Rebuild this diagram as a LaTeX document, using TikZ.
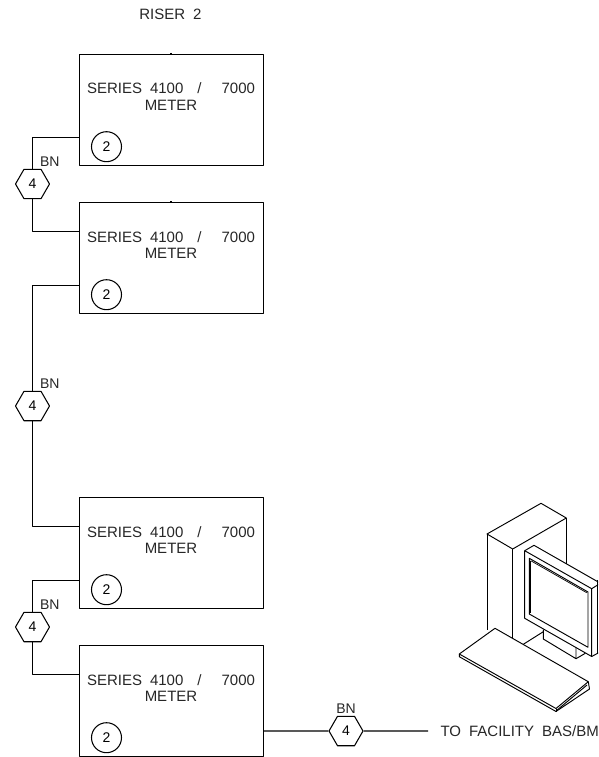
\documentclass[tikz,border=0pt]{standalone}
\usepackage{fontspec}
\setmainfont{Liberation Sans}
\usetikzlibrary{shapes.geometric}
\tikzset{
  meter/.style={draw,minimum width=184.5pt,minimum height=111pt,inner sep=0pt},
  tag/.style={draw,circle,minimum size=30pt,inner sep=0pt,font=\fontsize{14}{14}\selectfont},
  hexa/.style={draw,regular polygon,regular polygon sides=6,minimum size=34pt,inner sep=0pt,font=\fontsize{14}{14}\selectfont},
  lbl/.style={inner sep=0pt,anchor=base,font=\fontsize{15}{15}\selectfont,text=black!85},
  bn/.style={inner sep=0pt,anchor=base west,font=\fontsize{14}{14}\selectfont,text=black!85},
  wire/.style={line width=1.05pt},
  cad/.style={line width=0.95pt}
}
\newcommand{\metertext}{SERIES\hspace{8pt}4100\hspace{14pt}/\hspace{20pt}7000}
\begin{document}
\begin{tikzpicture}[x=1pt,y=-1pt,line width=1.05pt,line join=round]
\useasboundingbox (0,0) rectangle (598,757);
% title
\node[lbl] (title) at (170.5,20) {RISER\hspace{8pt}2};
% meters
\foreach \n/\t in {a/54,b/202,c/497,d/645}{
  \node[meter,anchor=north west] (box\n) at (78.5,\t) {};
  \node[lbl] (line\n) at (171,\t+40) {\metertext};
  \node[lbl] (name\n) at (171,\t+56.7) {METER};
  \node[tag] (tag\n) at (106.5,\t+92.7) {2};
}
\draw (171,53) -- (171,55);
\draw (171,201) -- (171,203);
% hexagons
\node[hexa] (h1) at (32.5,184) {4};
\node[hexa] (h2) at (32.5,406) {4};
\node[hexa] (h3) at (32.5,627) {4};
\node[hexa] (h4) at (346,731) {4};
\node[bn] (bn1) at (39.5,166.5) {BN};
\node[bn] (bn2) at (39.5,388.5) {BN};
\node[bn] (bn3) at (39.5,609.5) {BN};
\node[bn,anchor=base] (bn4) at (346,713) {BN};
% connection points
\coordinate (a1) at (78.5,137.3);
\coordinate (b1) at (78.5,231.3);
\coordinate (b2) at (78.5,285.3);
\coordinate (c1) at (78.5,526.3);
\coordinate (c2) at (78.5,580.3);
\coordinate (d1) at (78.5,674.3);
\coordinate (e1) at (428,731);
% wires
\draw[wire] (h1.north) -- (h1.north |- a1) -- (a1);
\draw[wire] (h1.south) -- (h1.south |- b1) -- (b1);
\draw[wire] (h2.north) -- (h2.north |- b2) -- (b2);
\draw[wire] (h2.south) -- (h2.south |- c1) -- (c1);
\draw[wire] (h3.north) -- (h3.north |- c2) -- (c2);
\draw[wire] (h3.south) -- (h3.south |- d1) -- (d1);
\draw[wire] (boxd.east |- h4) -- (h4.west);
\draw[wire] (h4.east) -- (e1);
\node[lbl,anchor=base west] (facility) at (440,736.5) {TO\hspace{8pt}FACILITY\hspace{8pt}BAS/BM};
% computer
\begin{scope}[cad]
\clip (430,490) rectangle (598,720);
% tower
\draw (487,534) -- (541,503.3) -- (566.3,518) -- (512.7,549) -- cycle;
\draw (487,534) -- (487,630);
\draw (512.7,549) -- (512.7,638.3);
\draw (566.3,518) -- (566.3,564);
% monitor
\draw (524.7,550.7) -- (534,545.3) -- (600,583);
\draw (524.7,550.7) -- (591.7,588.7) -- (591.7,656.5) -- (524.7,618.3) -- cycle;
\draw (591.7,588.7) -- (600,583.5);
\draw (591.7,656.5) -- (600,652);
\draw (597.5,580) -- (597.5,654);
\draw (529.3,558.3) -- (588,592) -- (588,647.3) -- (529.3,614) -- cycle;
\draw[line width=0.7pt] (530.7,560.7) -- (586.7,592.7);
\draw[line width=0.7pt] (530.7,560.7) -- (530.7,612.7);
% stand
\draw (543.3,629.5) -- (543.3,639) -- (576,658.7) -- (576,647.5);
\draw (576,658.7) -- (585.3,653.3);
\draw (523.3,644.3) -- (543.3,631.7);
% keyboard
\draw (495,628.3) -- (459.3,654) -- (556,708.5) -- (588.3,681.7) -- cycle;
\draw (459.3,654) -- (459.3,656.7) -- (556,711.5) -- (589.5,689) -- (588.3,681.7);
\draw (556,711.5) -- (556,708.5);
\draw (556,711) -- (587,685);
\end{scope}
\end{tikzpicture}
\end{document}
